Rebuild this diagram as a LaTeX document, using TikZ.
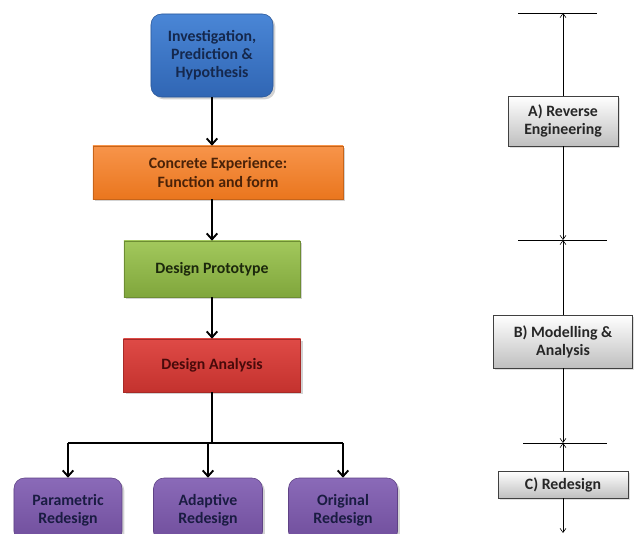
\documentclass[tikz,border=0pt]{standalone}
\usepackage{fontspec}
\setmainfont{Carlito}
\usetikzlibrary{arrows.meta,shadows}

\definecolor{bluT}{HTML}{4A86D6}
\definecolor{bluB}{HTML}{3066B4}
\definecolor{bluX}{HTML}{15284D}
\definecolor{orgT}{HTML}{F7944A}
\definecolor{orgB}{HTML}{EA761E}
\definecolor{orgX}{HTML}{4A2208}
\definecolor{grnT}{HTML}{A2C85C}
\definecolor{grnB}{HTML}{80A63C}
\definecolor{grnX}{HTML}{1C280C}
\definecolor{redT}{HTML}{DE4A46}
\definecolor{redB}{HTML}{C4322E}
\definecolor{redX}{HTML}{480A0A}
\definecolor{purT}{HTML}{8A6AB8}
\definecolor{purB}{HTML}{704E9C}
\definecolor{purX}{HTML}{1A1C42}

\begin{document}
\begin{tikzpicture}[x=0.03cm,y=-0.03cm,
  every node/.style={font=\bfseries\fontsize{13.5}{15.5}\selectfont,align=center},
  box/.style 2 args={draw=#2!85!black,line width=0.5pt,top color=#1,bottom color=#2,
    drop shadow={opacity=0.35,shadow xshift=2pt,shadow yshift=-2pt}},
  gbox/.style={draw=black!75,line width=0.8pt,top color=white,bottom color=black!25,text=black!85,
    drop shadow={opacity=0.25,shadow xshift=1.5pt,shadow yshift=-1.5pt}},
  flow/.style={-{Straight Barb[length=5pt,width=9pt]},line width=1.6pt},
  link/.style={-{Straight Barb[length=3.5pt,width=5pt]},line width=0.5pt}]
  \path[use as bounding box,clip] (0,0) rectangle (634,534);

  \node[box={bluT}{bluB},rounded corners=9pt,minimum width=3.66cm,minimum height=2.49cm,text=bluX] (I) at (212,55.5) {Investigation,\\Prediction \&\\Hypothesis};
  \node[box={orgT}{orgB},minimum width=7.5cm,minimum height=1.59cm,text=orgX] (E) at (218,172.5) {Concrete Experience:\\Function and form};
  \node[box={grnT}{grnB},minimum width=5.28cm,minimum height=1.68cm,text=grnX] (P) at (212,269) {Design Prototype};
  \node[box={redT}{redB},minimum width=5.31cm,minimum height=1.59cm,text=redX] (D) at (212,365.5) {Design Analysis};
  \node[box={purT}{purB},rounded corners=9pt,minimum width=3.24cm,minimum height=1.92cm,text=purX] (PR) at (68,510) {Parametric\\Redesign};
  \node[box={purT}{purB},rounded corners=9pt,minimum width=3.27cm,minimum height=1.92cm,text=purX] (AR) at (208,510) {Adaptive\\Redesign};
  \node[box={purT}{purB},rounded corners=9pt,minimum width=3.27cm,minimum height=1.92cm,text=purX] (OR) at (343,510) {Original\\Redesign};

  \draw[flow] (I.south) -- (I.south |- E.north);
  \draw[flow] (I.south |- E.south) -- (P.north);
  \draw[flow] (P.south) -- (D.north);
  \coordinate (S) at (212,443);
  \draw[line width=1.6pt] (D.south) -- (S);
  \draw[line width=1.6pt] (PR.north |- S) -- (OR.north |- S);
  \foreach \n in {PR,AR,OR}
    \draw[flow] (\n.north |- S) -- (\n.north);

  \node[gbox,minimum width=3.3cm,minimum height=1.5cm] (RA) at (563,121) {A) Reverse\\Engineering};
  \node[gbox,minimum width=4.17cm,minimum height=1.59cm] (RB) at (563,341.5) {B) Modelling \&\\Analysis};
  \node[gbox,minimum width=3.9cm,minimum height=0.81cm] (RC) at (563,484.5) {C) Redesign};

  \coordinate (T1) at (518,13);
  \coordinate (T2) at (597,13);
  \coordinate (M1) at (518,240);
  \coordinate (M2) at (607,240);
  \coordinate (L1) at (523,443);
  \coordinate (L2) at (607,443);
  \coordinate (Z) at (563,533);

  \draw[line width=0.6pt] (T1) -- (T2);
  \draw[line width=0.6pt] (M1) -- (M2);
  \draw[line width=0.6pt] (L1) -- (L2);
  \draw[link] (RA.north) -- (RA.north |- T1);
  \draw[link] (RA.south) -- (RA.south |- M1);
  \draw[link] (RB.north) -- (RB.north |- M1);
  \draw[link] (RB.south) -- (RB.south |- L1);
  \draw[link] (RC.north) -- (RC.north |- L1);
  \draw[link] (RC.south) -- (Z);
\end{tikzpicture}
\end{document}
